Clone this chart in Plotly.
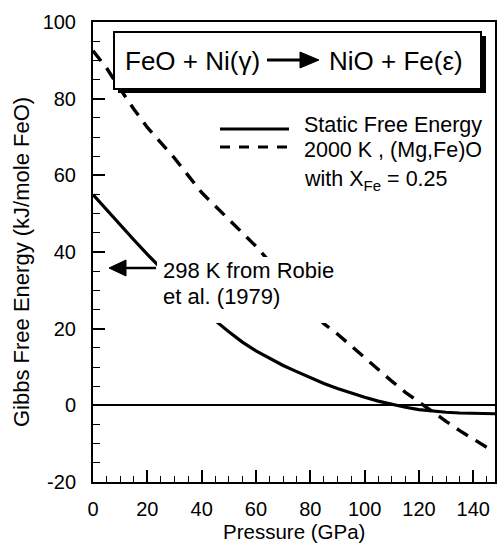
import plotly.graph_objects as go

# ---- data ----
pressure = [0, 5, 10, 15, 20, 25, 30, 35, 40, 45, 50, 55, 60, 65, 70, 75, 80,
            85, 90, 95, 100, 105, 110, 115, 120, 125, 130, 135, 140, 145, 148]
static_energy = [55.0, 51.0, 47.1, 43.2, 39.4, 35.7, 32.1, 28.6, 25.3, 22.1, 19.2,
                 16.5, 14.2, 12.2, 10.4, 8.8, 7.2, 5.7, 4.4, 3.2, 2.1, 1.1, 0.2,
                 -0.5, -1.1, -1.5, -1.8, -2.0, -2.1, -2.2, -2.2]

pressure_hot = [0, 5, 10, 15, 20, 25, 30, 35, 40, 45, 50, 55, 60, 65, 70, 75, 80,
                85, 90, 95, 100, 105, 110, 115, 120, 125, 130, 135, 140, 146]
hot_energy = [92.5, 88.0, 82.5, 77.3, 72.5, 68.5, 64.5, 60.0, 55.5, 52.0, 48.5,
              45.0, 41.5, 37.5, 33.5, 29.0, 25.0, 21.3, 18.6, 15.5, 12.3, 9.2,
              6.3, 3.4, 0.8, -1.8, -4.2, -6.6, -8.8, -11.4]

x_ticks = [0, 20, 40, 60, 80, 100, 120, 140]
y_ticks = [-20, 0, 20, 40, 60, 80, 100]

# ---- figure geometry (pixels) ----
W, H = 497, 544
ML, MR, MT, MB = 93, 2, 22, 62
PW, PH = W - ML - MR, H - MT - MB


def px(x):
    return (x - ML) / PW


def py(y):
    return (H - MB - y) / PH


FONT = "Liberation Sans, Arial, Helvetica, sans-serif"

fig = go.Figure()
fig.add_trace(go.Scatter(x=pressure, y=static_energy, mode="lines",
                         line=dict(color="black", width=3.2),
                         name="Static Free Energy", showlegend=False))
fig.add_trace(go.Scatter(x=pressure_hot, y=hot_energy, mode="lines",
                         line=dict(color="black", width=3.4, dash="13px,9px"),
                         name="2000 K, (Mg,Fe)O with X_Fe = 0.25", showlegend=False))

shapes = []
annotations = []

# white box behind the "298 K" note (hides the curves there)
shapes.append(dict(type="rect", xref="paper", yref="paper",
                   x0=px(157), x1=px(342), y0=py(323), y1=py(257),
                   fillcolor="white", line=dict(width=0), layer="above"))
# arrow of the note
shapes.append(dict(type="line", xref="paper", yref="paper",
                   x0=px(124), x1=px(156), y0=py(268), y1=py(268),
                   line=dict(color="black", width=2.5), layer="above"))
shapes.append(dict(type="path", xref="paper", yref="paper",
                   path=f"M {px(126)} {py(260)} L {px(109)} {py(268)} L {px(126)} {py(276)} Z",
                   fillcolor="black", line=dict(color="black", width=1), layer="above"))
annotations.append(dict(text="298 K from Robie", xref="paper", yref="paper",
                        x=px(161), y=py(270), xanchor="left", yanchor="middle",
                        showarrow=False, font=dict(size=22, color="black", family=FONT)))
annotations.append(dict(text="et al. (1979)", xref="paper", yref="paper",
                        x=px(161), y=py(296), xanchor="left", yanchor="middle",
                        showarrow=False, font=dict(size=22, color="black", family=FONT)))

# reaction box with drop shadow
shapes.append(dict(type="rect", xref="paper", yref="paper",
                   x0=px(118), x1=px(486), y0=py(93), y1=py(36),
                   fillcolor="black", line=dict(width=0), layer="above"))
shapes.append(dict(type="rect", xref="paper", yref="paper",
                   x0=px(114), x1=px(481), y0=py(89), y1=py(32),
                   fillcolor="white", line=dict(color="black", width=2), layer="above"))
annotations.append(dict(text="FeO + Ni(γ)", xref="paper", yref="paper",
                        x=px(123), y=py(61), xanchor="left", yanchor="middle",
                        showarrow=False, font=dict(size=26, color="black", family=FONT)))
annotations.append(dict(text="NiO + Fe(ε)", xref="paper", yref="paper",
                        x=px(327), y=py(61), xanchor="left", yanchor="middle",
                        showarrow=False, font=dict(size=26, color="black", family=FONT)))
shapes.append(dict(type="line", xref="paper", yref="paper",
                   x0=px(267), x1=px(302), y0=py(60), y1=py(60),
                   line=dict(color="black", width=3), layer="above"))
shapes.append(dict(type="path", xref="paper", yref="paper",
                   path=f"M {px(300)} {py(52)} L {px(319)} {py(60)} L {px(300)} {py(68)} Z",
                   fillcolor="black", line=dict(color="black", width=1), layer="above"))

# legend (drawn by hand to follow the reference layout)
shapes.append(dict(type="line", xref="paper", yref="paper",
                   x0=px(220), x1=px(289), y0=py(129), y1=py(129),
                   line=dict(color="black", width=3.2), layer="above"))
shapes.append(dict(type="line", xref="paper", yref="paper",
                   x0=px(220), x1=px(294), y0=py(147), y1=py(147),
                   line=dict(color="black", width=3.2, dash="10px,9px"), layer="above"))
annotations.append(dict(text="Static Free Energy", xref="paper", yref="paper",
                        x=px(302), y=py(125), xanchor="left", yanchor="middle",
                        showarrow=False, font=dict(size=21.5, color="black", family=FONT)))
annotations.append(dict(text="2000 K , (Mg,Fe)O", xref="paper", yref="paper",
                        x=px(302), y=py(150), xanchor="left", yanchor="middle",
                        showarrow=False, font=dict(size=21.5, color="black", family=FONT)))
annotations.append(dict(text="with X<sub>Fe</sub> = 0.25", xref="paper", yref="paper",
                        x=px(302), y=py(180), xanchor="left", yanchor="middle",
                        showarrow=False, font=dict(size=21.5, color="black", family=FONT)))

# axis titles placed as in the reference
annotations.append(dict(text="Pressure (GPa)", xref="paper", yref="paper",
                        x=px(294), y=py(531), xanchor="center", yanchor="middle",
                        showarrow=False, font=dict(size=20.5, color="black", family=FONT)))
annotations.append(dict(text="Gibbs Free Energy (kJ/mole FeO)", xref="paper", yref="paper",
                        x=px(21), y=py(262), xanchor="center", yanchor="middle",
                        textangle=-90,
                        showarrow=False, font=dict(size=22, color="black", family=FONT)))

fig.update_layout(
    width=W, height=H,
    margin=dict(l=ML, r=MR, t=MT, b=MB, pad=0, autoexpand=False),
    paper_bgcolor="white", plot_bgcolor="white",
    font=dict(family=FONT, size=20, color="black"),
    showlegend=False,
    shapes=shapes, annotations=annotations,
    xaxis=dict(range=[0, 148], tickvals=x_ticks, ticktext=[str(v) for v in x_ticks],
               ticks="inside", ticklen=12, tickwidth=1.5, tickcolor="black",
               minor=dict(dtick=5, ticks="inside", ticklen=6, tickwidth=1.2, tickcolor="black"),
               showline=True, linewidth=2, linecolor="black", mirror=True,
               showgrid=False, zeroline=False, automargin=False,
               tickfont=dict(size=20, family=FONT), ticklabelstandoff=8),
    yaxis=dict(range=[-20, 100], tickvals=y_ticks, ticktext=[str(v) for v in y_ticks],
               ticks="inside", ticklen=12, tickwidth=1.5, tickcolor="black",
               minor=dict(dtick=5, ticks="inside", ticklen=7, tickwidth=1.2, tickcolor="black"),
               showline=True, linewidth=2, linecolor="black", mirror=True,
               showgrid=False, zeroline=True, zerolinecolor="black", zerolinewidth=1.5,
               automargin=False,
               tickfont=dict(size=20, family=FONT), ticklabelstandoff=11),
)

fig.write_html("out.html",
               config={"displayModeBar": False},
               post_script="document.body.style.margin='0px';document.body.style.overflow='hidden';")
